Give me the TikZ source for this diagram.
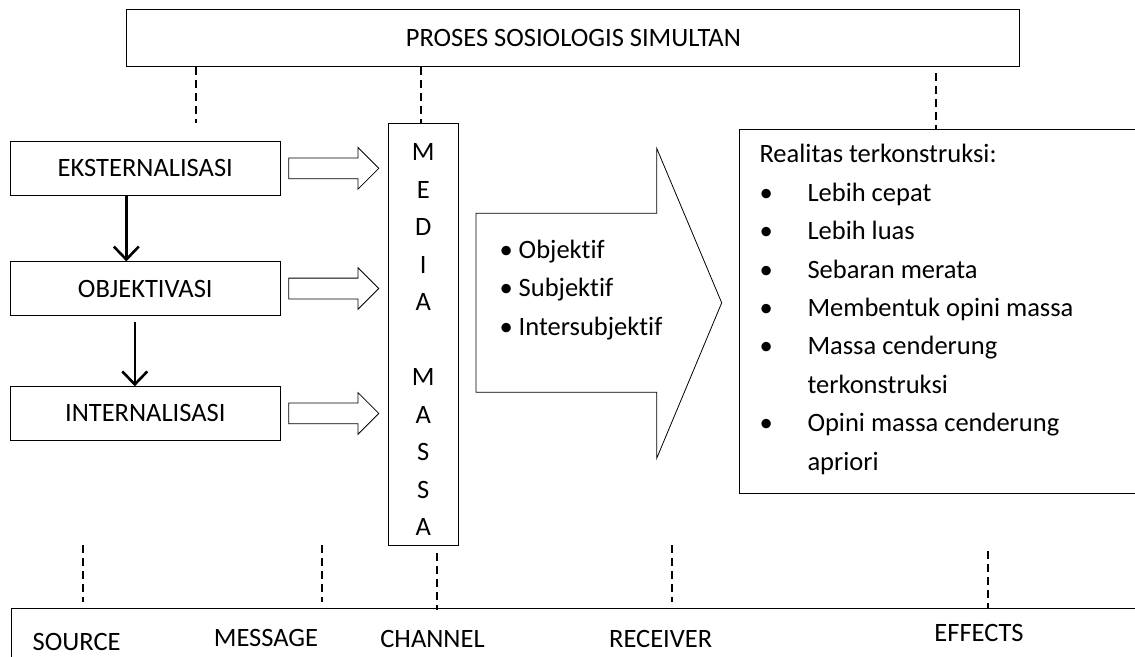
\documentclass[tikz,border=0pt]{standalone}
\usepackage{fontspec}
\setmainfont{Carlito}[Ligatures=NoCommon]
\usetikzlibrary{positioning,shapes.arrows,arrows.meta}

\begin{document}
\begin{tikzpicture}[x=1pt,y=-1pt]

\tikzstyle{every node}=[font=\fontsize{26.5}{38.4}\selectfont]
\tikzstyle{box}=[draw, line width=0.9pt, inner sep=0pt]
\tikzstyle{dashline}=[dash pattern=on 8pt off 5pt, line width=1.6pt]
\tikzstyle{hollow}=[draw, single arrow, line width=0.8pt, inner sep=0pt, inner ysep=10pt, minimum height=90pt, single arrow head extend=10.5pt]
\tikzstyle{downarrow}=[-{Straight Barb[length=13pt, width=25pt]}, line width=2.6pt]

\useasboundingbox (0,0) rectangle (1135,656);
\clip (0,0) rectangle (1135,656);

% nodes %
\node[box, minimum width=893pt, minimum height=57.5pt] (proses) at (573.4,38) {PROSES SOSIOLOGIS SIMULTAN};

\node[box, minimum width=269.3pt, minimum height=53.3pt] (eks) at (145.3,168.3) {EKSTERNALISASI};
\node[box, minimum width=269.3pt, minimum height=53.3pt, below=66pt of eks] (obj) {OBJEKTIVASI};
\node[box, minimum width=269.3pt, minimum height=53.3pt, below=70.7pt of obj] (int) {INTERNALISASI};

\node[hollow, right=8pt of eks] (eksArrow) {};
\node[hollow, right=8pt of obj] (objArrow) {};
\node[hollow, right=8pt of int] (intArrow) {};

\node[box, minimum width=70.7pt, minimum height=421.7pt] (media) at (423.3,334.2) {};
\foreach \ch [count=\i from 0] in {M,E,D,I,A,{},M,A,S,S,A}
  \node (letter\i) at (423.3,152+37.5*\i) {\ch};

\node[align=left, anchor=west] (sifat) at (496,290) {\textbullet\ Objektif\\\textbullet\ Subjektif\\\textbullet\ Intersubjektif};

\node[box, anchor=north west, minimum width=420pt, minimum height=364pt] (realitas) at (739,129.3) {};
\node[align=left, anchor=west] (realitasText) at (756,309.5) {Realitas terkonstruksi:\\
  \makebox[48pt][l]{\textbullet}Lebih cepat\\
  \makebox[48pt][l]{\textbullet}Lebih luas\\
  \makebox[48pt][l]{\textbullet}Sebaran merata\\
  \makebox[48pt][l]{\textbullet}Membentuk opini massa\\
  \makebox[48pt][l]{\textbullet}Massa cenderung\\
  \hspace*{48pt}terkonstruksi\\
  \makebox[48pt][l]{\textbullet}Opini massa cenderung\\
  \hspace*{48pt}apriori};

\node[box, anchor=north west, minimum width=1200pt, minimum height=100pt] (smcr) at (11,608) {};
\node (source) at (76.7,641.7) {SOURCE};
\node (message) at (266,638) {MESSAGE};
\node (channel) at (432.5,639) {CHANNEL};
\node (receiver) at (660.7,639) {RECEIVER};
\node (effects) at (979,633) {EFFECTS};

\coordinate (srcUp) at (196,123);
\coordinate (mediaUp) at (421,123);
\coordinate (effUp) at (936,73);
\coordinate (srcDown) at (83,545);
\coordinate (msgDown) at (322,545);
\coordinate (chnDown) at (437,553);
\coordinate (rcvDown) at (672,545);
\coordinate (effDown) at (988,551);

% edges %
\draw[downarrow] ([xshift=-19pt]eks.south) -- ([xshift=-19pt]obj.north);
\draw[downarrow] ([xshift=-10.5pt, yshift=-6pt]obj.south) -- ([xshift=-10.5pt]int.north);

\draw[line width=0.8pt] (476,213.3) -- (656.7,213.3) -- (656.7,148.3) -- (721.7,302.8) -- (656.7,458.3) -- (656.7,392.3) -- (476,392.3) -- cycle;

\draw[dashline] (srcUp |- proses.south) -- (srcUp);
\draw[dashline] (mediaUp |- proses.south) -- (mediaUp);
\draw[dashline] (effUp) -- (effUp |- realitas.north);

\draw[dashline] (srcDown) -- ([yshift=6pt]srcDown |- smcr.north);
\draw[dashline] (msgDown) -- ([yshift=6pt]msgDown |- smcr.north);
\draw[dashline] (chnDown) -- ([yshift=-2pt]chnDown |- smcr.north);
\draw[dashline] (rcvDown) -- ([yshift=6pt]rcvDown |- smcr.north);
\draw[dashline] (effDown) -- (effDown |- smcr.north);

\end{tikzpicture}
\end{document}
